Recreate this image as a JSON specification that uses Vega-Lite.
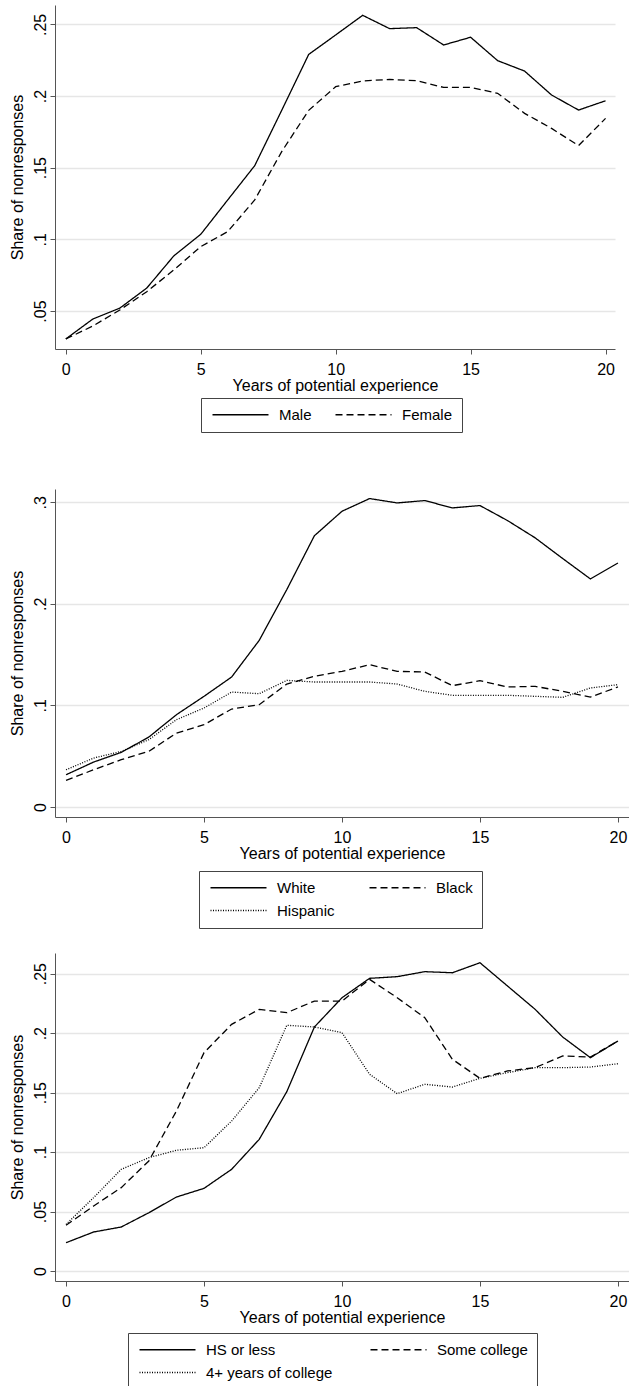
{
  "$schema": "https://vega.github.io/schema/vega-lite/v6.json",
  "padding": {"left": 9, "top": 5, "right": 0, "bottom": 0},
  "background": "white",
  "config": {
    "font": "Liberation Sans, Arial, sans-serif",
    "view": {"stroke": null},
    "axis": {
      "labelFont": "Liberation Sans, Arial, sans-serif",
      "titleFont": "Liberation Sans, Arial, sans-serif",
      "labelFontSize": 16,
      "titleFontSize": 16,
      "titleFontWeight": "normal",
      "labelColor": "black",
      "titleColor": "black",
      "domainColor": "#555555",
      "tickColor": "#555555",
      "tickSize": 5,
      "gridColor": "#e6e6e6",
      "gridWidth": 1.5
    },
    "axisX": {"grid": false, "labelAngle": 0, "labelPadding": 7, "titlePadding": 0, "format": "d"},
    "axisY": {"grid": true, "labelAngle": 270, "labelAlign": "center", "labelBaseline": "alphabetic", "labelPadding": 5, "minExtent": 26, "maxExtent": 26, "titlePadding": 4},
    "legend": {
      "orient": "none",
      "title": null,
      "direction": "horizontal",
      "columns": 2,
      "strokeColor": "#444444",
      "padding": 9,
      "labelFont": "Liberation Sans, Arial, sans-serif",
      "labelFontSize": 15,
      "labelColor": "black",
      "symbolType": "M-28,0H28",
      "symbolSize": 4,
      "symbolStrokeWidth": 1.3,
      "symbolStrokeColor": "black",
      "symbolOffset": 23,
      "labelOffset": 31,
      "rowPadding": 7
    }
  },
  "datasets": {
    "gender": [
      {"exp": 0, "group": "Male", "share": 0.0305}, {"exp": 1, "group": "Male", "share": 0.0444}, {"exp": 2, "group": "Male", "share": 0.052}, {"exp": 3, "group": "Male", "share": 0.066}, {"exp": 4, "group": "Male", "share": 0.0884}, {"exp": 5, "group": "Male", "share": 0.1035}, {"exp": 6, "group": "Male", "share": 0.1275}, {"exp": 7, "group": "Male", "share": 0.1514}, {"exp": 8, "group": "Male", "share": 0.19}, {"exp": 9, "group": "Male", "share": 0.229}, {"exp": 10, "group": "Male", "share": 0.2426}, {"exp": 11, "group": "Male", "share": 0.2563}, {"exp": 12, "group": "Male", "share": 0.247}, {"exp": 13, "group": "Male", "share": 0.2477}, {"exp": 14, "group": "Male", "share": 0.2356}, {"exp": 15, "group": "Male", "share": 0.241}, {"exp": 16, "group": "Male", "share": 0.2247}, {"exp": 17, "group": "Male", "share": 0.2174}, {"exp": 18, "group": "Male", "share": 0.2007}, {"exp": 19, "group": "Male", "share": 0.1902}, {"exp": 20, "group": "Male", "share": 0.1967},
      {"exp": 0, "group": "Female", "share": 0.0305}, {"exp": 1, "group": "Female", "share": 0.0395}, {"exp": 2, "group": "Female", "share": 0.0507}, {"exp": 3, "group": "Female", "share": 0.0635}, {"exp": 4, "group": "Female", "share": 0.0786}, {"exp": 5, "group": "Female", "share": 0.0949}, {"exp": 6, "group": "Female", "share": 0.1054}, {"exp": 7, "group": "Female", "share": 0.1275}, {"exp": 8, "group": "Female", "share": 0.1612}, {"exp": 9, "group": "Female", "share": 0.19}, {"exp": 10, "group": "Female", "share": 0.2065}, {"exp": 11, "group": "Female", "share": 0.2105}, {"exp": 12, "group": "Female", "share": 0.2116}, {"exp": 13, "group": "Female", "share": 0.2107}, {"exp": 14, "group": "Female", "share": 0.206}, {"exp": 15, "group": "Female", "share": 0.206}, {"exp": 16, "group": "Female", "share": 0.2019}, {"exp": 17, "group": "Female", "share": 0.1879}, {"exp": 18, "group": "Female", "share": 0.1774}, {"exp": 19, "group": "Female", "share": 0.1654}, {"exp": 20, "group": "Female", "share": 0.1844}
    ],
    "race": [
      {"exp": 0, "group": "White", "share": 0.0317}, {"exp": 1, "group": "White", "share": 0.0442}, {"exp": 2, "group": "White", "share": 0.0537}, {"exp": 3, "group": "White", "share": 0.0688}, {"exp": 4, "group": "White", "share": 0.0908}, {"exp": 5, "group": "White", "share": 0.1089}, {"exp": 6, "group": "White", "share": 0.1279}, {"exp": 7, "group": "White", "share": 0.164}, {"exp": 8, "group": "White", "share": 0.214}, {"exp": 9, "group": "White", "share": 0.267}, {"exp": 10, "group": "White", "share": 0.2911}, {"exp": 11, "group": "White", "share": 0.3036}, {"exp": 12, "group": "White", "share": 0.2993}, {"exp": 13, "group": "White", "share": 0.3016}, {"exp": 14, "group": "White", "share": 0.2944}, {"exp": 15, "group": "White", "share": 0.2967}, {"exp": 16, "group": "White", "share": 0.2819}, {"exp": 17, "group": "White", "share": 0.2649}, {"exp": 18, "group": "White", "share": 0.2445}, {"exp": 19, "group": "White", "share": 0.2245}, {"exp": 20, "group": "White", "share": 0.2402},
      {"exp": 0, "group": "Black", "share": 0.0261}, {"exp": 1, "group": "Black", "share": 0.0366}, {"exp": 2, "group": "Black", "share": 0.0465}, {"exp": 3, "group": "Black", "share": 0.0547}, {"exp": 4, "group": "Black", "share": 0.0727}, {"exp": 5, "group": "Black", "share": 0.081}, {"exp": 6, "group": "Black", "share": 0.0964}, {"exp": 7, "group": "Black", "share": 0.1007}, {"exp": 8, "group": "Black", "share": 0.121}, {"exp": 9, "group": "Black", "share": 0.1286}, {"exp": 10, "group": "Black", "share": 0.1335}, {"exp": 11, "group": "Black", "share": 0.14}, {"exp": 12, "group": "Black", "share": 0.1335}, {"exp": 13, "group": "Black", "share": 0.1328}, {"exp": 14, "group": "Black", "share": 0.1194}, {"exp": 15, "group": "Black", "share": 0.1243}, {"exp": 16, "group": "Black", "share": 0.1181}, {"exp": 17, "group": "Black", "share": 0.1187}, {"exp": 18, "group": "Black", "share": 0.1138}, {"exp": 19, "group": "Black", "share": 0.1082}, {"exp": 20, "group": "Black", "share": 0.1181},
      {"exp": 0, "group": "Hispanic", "share": 0.0366}, {"exp": 1, "group": "Hispanic", "share": 0.0481}, {"exp": 2, "group": "Hispanic", "share": 0.0547}, {"exp": 3, "group": "Hispanic", "share": 0.0662}, {"exp": 4, "group": "Hispanic", "share": 0.0859}, {"exp": 5, "group": "Hispanic", "share": 0.0974}, {"exp": 6, "group": "Hispanic", "share": 0.1131}, {"exp": 7, "group": "Hispanic", "share": 0.1115}, {"exp": 8, "group": "Hispanic", "share": 0.1246}, {"exp": 9, "group": "Hispanic", "share": 0.123}, {"exp": 10, "group": "Hispanic", "share": 0.123}, {"exp": 11, "group": "Hispanic", "share": 0.123}, {"exp": 12, "group": "Hispanic", "share": 0.121}, {"exp": 13, "group": "Hispanic", "share": 0.1138}, {"exp": 14, "group": "Hispanic", "share": 0.1099}, {"exp": 15, "group": "Hispanic", "share": 0.1099}, {"exp": 16, "group": "Hispanic", "share": 0.1099}, {"exp": 17, "group": "Hispanic", "share": 0.1089}, {"exp": 18, "group": "Hispanic", "share": 0.1079}, {"exp": 19, "group": "Hispanic", "share": 0.1171}, {"exp": 20, "group": "Hispanic", "share": 0.1204}
    ],
    "edu": [
      {"exp": 0, "group": "HS or less", "share": 0.0238}, {"exp": 1, "group": "HS or less", "share": 0.0328}, {"exp": 2, "group": "HS or less", "share": 0.037}, {"exp": 3, "group": "HS or less", "share": 0.049}, {"exp": 4, "group": "HS or less", "share": 0.0622}, {"exp": 5, "group": "HS or less", "share": 0.0695}, {"exp": 6, "group": "HS or less", "share": 0.0855}, {"exp": 7, "group": "HS or less", "share": 0.1107}, {"exp": 8, "group": "HS or less", "share": 0.1508}, {"exp": 9, "group": "HS or less", "share": 0.2052}, {"exp": 10, "group": "HS or less", "share": 0.2298}, {"exp": 11, "group": "HS or less", "share": 0.2461}, {"exp": 12, "group": "HS or less", "share": 0.2475}, {"exp": 13, "group": "HS or less", "share": 0.2517}, {"exp": 14, "group": "HS or less", "share": 0.2508}, {"exp": 15, "group": "HS or less", "share": 0.2592}, {"exp": 16, "group": "HS or less", "share": 0.2396}, {"exp": 17, "group": "HS or less", "share": 0.22}, {"exp": 18, "group": "HS or less", "share": 0.1967}, {"exp": 19, "group": "HS or less", "share": 0.1794}, {"exp": 20, "group": "HS or less", "share": 0.1934},
      {"exp": 0, "group": "Some college", "share": 0.0384}, {"exp": 1, "group": "Some college", "share": 0.0547}, {"exp": 2, "group": "Some college", "share": 0.0701}, {"exp": 3, "group": "Some college", "share": 0.0925}, {"exp": 4, "group": "Some college", "share": 0.1345}, {"exp": 5, "group": "Some college", "share": 0.1836}, {"exp": 6, "group": "Some college", "share": 0.2074}, {"exp": 7, "group": "Some college", "share": 0.22}, {"exp": 8, "group": "Some college", "share": 0.2172}, {"exp": 9, "group": "Some college", "share": 0.227}, {"exp": 10, "group": "Some college", "share": 0.227}, {"exp": 11, "group": "Some college", "share": 0.2452}, {"exp": 12, "group": "Some college", "share": 0.2298}, {"exp": 13, "group": "Some college", "share": 0.213}, {"exp": 14, "group": "Some college", "share": 0.178}, {"exp": 15, "group": "Some college", "share": 0.162}, {"exp": 16, "group": "Some college", "share": 0.1682}, {"exp": 17, "group": "Some college", "share": 0.171}, {"exp": 18, "group": "Some college", "share": 0.1808}, {"exp": 19, "group": "Some college", "share": 0.1799}, {"exp": 20, "group": "Some college", "share": 0.1934},
      {"exp": 0, "group": "4+ years of college", "share": 0.0392}, {"exp": 1, "group": "4+ years of college", "share": 0.0617}, {"exp": 2, "group": "4+ years of college", "share": 0.0855}, {"exp": 3, "group": "4+ years of college", "share": 0.0953}, {"exp": 4, "group": "4+ years of college", "share": 0.1015}, {"exp": 5, "group": "4+ years of college", "share": 0.1037}, {"exp": 6, "group": "4+ years of college", "share": 0.1261}, {"exp": 7, "group": "4+ years of college", "share": 0.1541}, {"exp": 8, "group": "4+ years of college", "share": 0.2066}, {"exp": 9, "group": "4+ years of college", "share": 0.2052}, {"exp": 10, "group": "4+ years of college", "share": 0.2004}, {"exp": 11, "group": "4+ years of college", "share": 0.1654}, {"exp": 12, "group": "4+ years of college", "share": 0.1491}, {"exp": 13, "group": "4+ years of college", "share": 0.157}, {"exp": 14, "group": "4+ years of college", "share": 0.1547}, {"exp": 15, "group": "4+ years of college", "share": 0.162}, {"exp": 16, "group": "4+ years of college", "share": 0.1668}, {"exp": 17, "group": "4+ years of college", "share": 0.171}, {"exp": 18, "group": "4+ years of college", "share": 0.171}, {"exp": 19, "group": "4+ years of college", "share": 0.1715}, {"exp": 20, "group": "4+ years of college", "share": 0.1743}
    ]
  },
  "spacing": 56,
  "resolve": {"scale": {"x": "independent", "y": "independent", "strokeDash": "independent"}, "legend": {"strokeDash": "independent"}, "axis": {"x": "independent", "y": "independent"}},
  "vconcat": [
    {
      "width": 560,
      "height": 344,
      "data": {"name": "gender"},
      "mark": {"type": "line", "color": "black", "strokeWidth": 1.3},
      "encoding": {
        "x": {"field": "exp", "type": "quantitative", "scale": {"domain": [-0.4, 20.35], "nice": false, "zero": false}, "axis": {"values": [0, 5, 10, 15, 20], "title": "Years of potential experience"}},
        "y": {"field": "share", "type": "quantitative", "scale": {"domain": [0.0235, 0.2635], "nice": false, "zero": false}, "axis": {"values": [0.05, 0.1, 0.15, 0.2, 0.25], "title": "Share of nonresponses", "labelExpr": "datum.value == 0 ? '0' : slice(format(datum.value, '.2~f'), 1)"}},
        "strokeDash": {"field": "group", "type": "nominal", "scale": {"domain": ["Male", "Female"], "range": [[1, 0], [7, 4]]}, "legend": {"legendX": 146, "legendY": 393, "columnPadding": 20}}
      }
    },
    {
      "spacing": 24,
      "resolve": {"scale": {"x": "independent", "y": "independent", "strokeDash": "independent"}, "legend": {"strokeDash": "independent"}, "axis": {"x": "independent", "y": "independent"}},
      "vconcat": [
        {
          "width": 574,
          "height": 328,
          "data": {"name": "race"},
          "mark": {"type": "line", "color": "black", "strokeWidth": 1.3},
          "encoding": {
            "x": {"field": "exp", "type": "quantitative", "scale": {"domain": [-0.4, 20.4], "nice": false, "zero": false}, "axis": {"values": [0, 5, 10, 15, 20], "title": "Years of potential experience"}},
            "y": {"field": "share", "type": "quantitative", "scale": {"domain": [-0.0099, 0.313], "nice": false, "zero": false}, "axis": {"values": [0, 0.1, 0.2, 0.3], "title": "Share of nonresponses", "labelExpr": "datum.value == 0 ? '0' : slice(format(datum.value, '.2~f'), 1)"}},
            "strokeDash": {"field": "group", "type": "nominal", "scale": {"domain": ["White", "Black", "Hispanic"], "range": [[1, 0], [7, 4], [1, 1.5]]}, "legend": {"legendX": 144, "legendY": 382, "columnPadding": 31}}
          }
        },
        {
          "width": 574,
          "height": 328,
          "data": {"name": "edu"},
          "mark": {"type": "line", "color": "black", "strokeWidth": 1.3},
          "encoding": {
            "x": {"field": "exp", "type": "quantitative", "scale": {"domain": [-0.4, 20.4], "nice": false, "zero": false}, "axis": {"values": [0, 5, 10, 15, 20], "title": "Years of potential experience"}},
            "y": {"field": "share", "type": "quantitative", "scale": {"domain": [-0.0084, 0.2674], "nice": false, "zero": false}, "axis": {"values": [0, 0.05, 0.1, 0.15, 0.2, 0.25], "title": "Share of nonresponses", "labelExpr": "datum.value == 0 ? '0' : slice(format(datum.value, '.2~f'), 1)"}},
            "strokeDash": {"field": "group", "type": "nominal", "scale": {"domain": ["HS or less", "Some college", "4+ years of college"], "range": [[1, 0], [7, 4], [1, 1.5]]}, "legend": {"legendX": 73, "legendY": 380, "columnPadding": 34}}
          }
        }
      ]
    }
  ]
}
